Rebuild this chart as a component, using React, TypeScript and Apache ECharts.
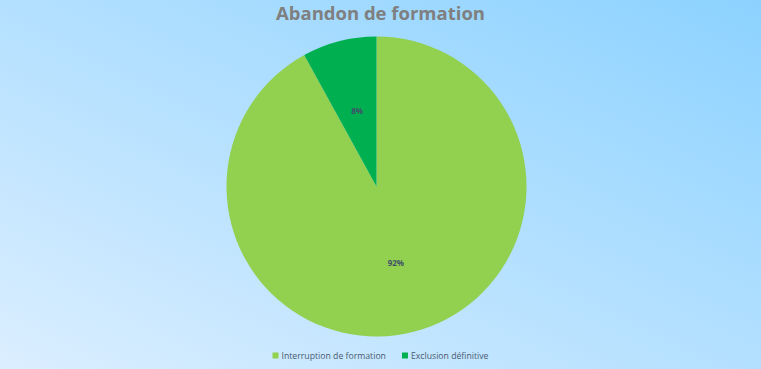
import React, { useEffect, useRef } from "react";
import * as echarts from "echarts";

const categories = ["Interruption de formation", "Exclusion définitive"];
const values = [92, 8];
const colors = ["#92D050", "#00B050"];

export default function App() {
  const ref = useRef<HTMLDivElement>(null);
  useEffect(() => {
    document.body.style.margin = "0";
    const chart = echarts.init(ref.current!, null, { renderer: "svg" });
    chart.setOption({
      animation: false,
      backgroundColor: {
        type: "linear",
        x: 0,
        y: 1,
        x2: 1,
        y2: 0,
        colorStops: [
          { offset: 0, color: "#dbeeff" },
          { offset: 1, color: "#8cd2ff" },
        ],
      },
      title: {
        text: "Abandon de formation",
        left: "center",
        top: -2,
        textStyle: {
          fontFamily: "Open Sans",
          fontSize: 18.5,
          fontWeight: "bold",
          color: "#7f7f7f",
        },
      },
      legend: {
        bottom: 4,
        left: "center",
        itemWidth: 6,
        itemHeight: 6,
        itemGap: 16,
        icon: "rect",
        textStyle: {
          fontFamily: "Open Sans",
          fontSize: 8.7,
          color: "#4a5a70",
          padding: [0, 0, 0, -2],
        },
        data: categories,
      },
      series: [
        {
          type: "pie",
          center: [376.5, 186.5],
          radius: [0, 150],
          startAngle: 90,
          clockwise: true,
          label: {
            show: true,
            position: "inside",
            formatter: "{d}%",
            fontFamily: "Open Sans",
            fontSize: 8,
            fontWeight: "bold",
            color: "#3f4f6a",
          },
          labelLine: { show: false },
          itemStyle: { borderWidth: 0 },
          percentPrecision: 0,
          data: categories.map((name, i) => ({
            name,
            value: values[i],
            itemStyle: { color: colors[i] },
          })),
        },
      ],
    });
    return () => chart.dispose();
  }, []);
  return <div ref={ref} style={{ width: 761, height: 369 }} />;
}
